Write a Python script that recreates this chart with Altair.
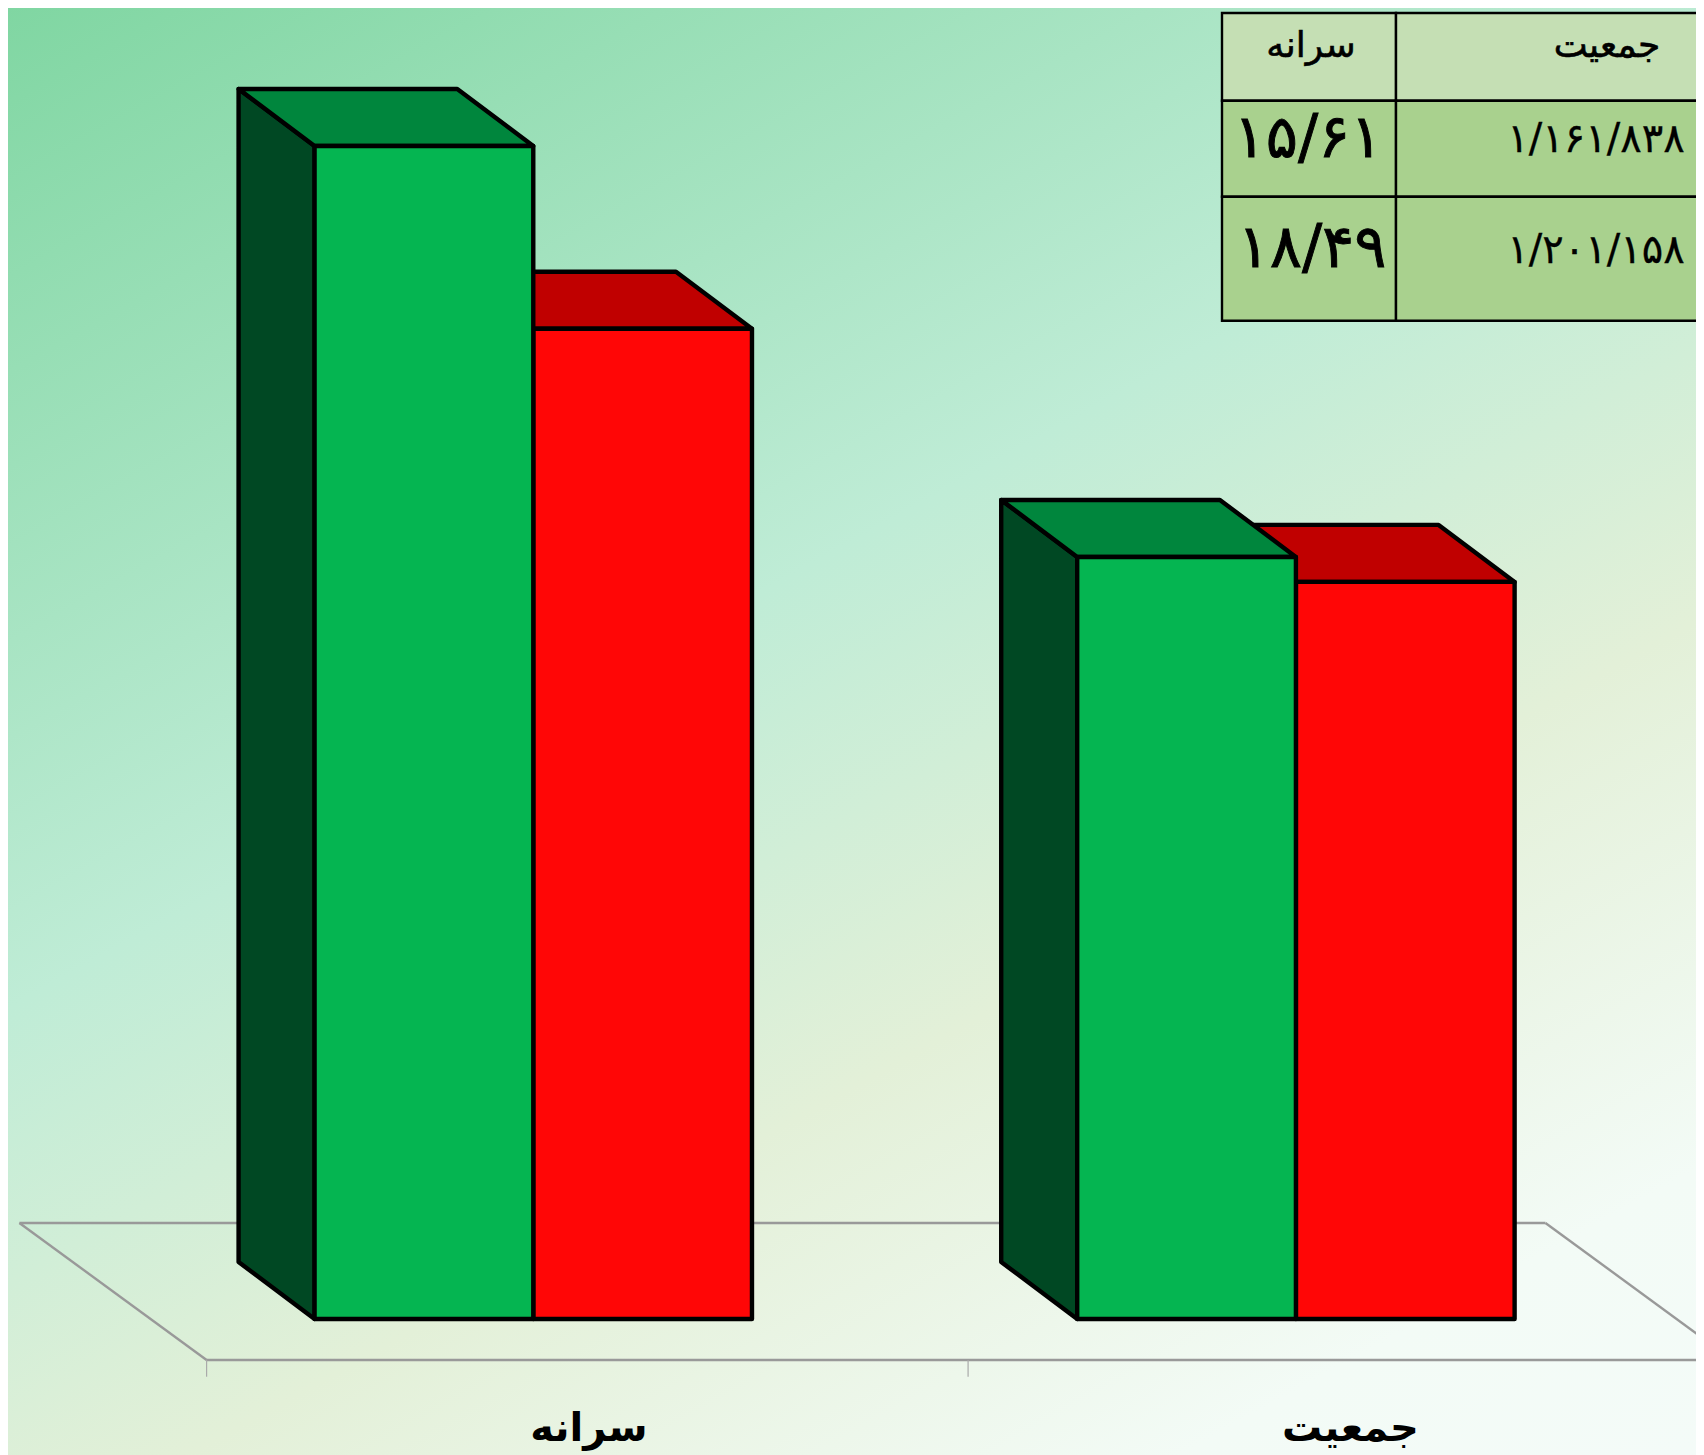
import altair as alt
import pandas as pd

# --- chart values -----------------------------------------------------
categories = ["سرانه", "جمعیت"]
green_values = [18.49, 12.01158]
red_values = [15.61, 11.61838]
table_header = ["سرانه", "جمعیت"]
table_row1 = ["۱۵/۶۱", "۱/۱۶۱/۸۳۸"]
table_row2 = ["۱۸/۴۹", "۱/۲۰۱/۱۵۸"]

# --- layout of the fake-3D chart, in axis units -----------------------
W, H = 1688, 1447
X_DOMAIN = [-0.2608, 1.9559]
Y_DOMAIN = [-2.144, 20.665]
PX_X = W / (X_DOMAIN[1] - X_DOMAIN[0])
PX_Y = H / (Y_DOMAIN[1] - Y_DOMAIN[0])

BAR_W = 0.2872
BAR_START = 0.1418
GROUP_STEP = 1.0015
DEPTH_X = 0.0998
DEPTH_Y = 0.8985
FLOOR_FRONT = -0.646
FLOOR_BACK = 1.513
FLOOR_DEPTH_X = 0.2458
FLOOR_BACK_END = 1.7582
TICK = -0.91
LABEL_Y = -1.73


def ux(px):
    return (px - 8) / PX_X + X_DOMAIN[0]


def vy(px):
    return Y_DOMAIN[1] - (px - 8) / PX_Y


xs = alt.Scale(domain=X_DOMAIN, nice=False, zero=False)
ys = alt.Scale(domain=Y_DOMAIN, nice=False, zero=False)


def X(f="x"):
    return alt.X(f"{f}:Q", scale=xs, axis=None)


def Y(f="y"):
    return alt.Y(f"{f}:Q", scale=ys, axis=None)


def X2(f="x2"):
    return alt.X2(f"{f}:Q")


def Y2(f="y2"):
    return alt.Y2(f"{f}:Q")


bars = []
for i, (g, r) in enumerate(zip(green_values, red_values)):
    left = i * GROUP_STEP + BAR_START
    bars.append(dict(id=f"g{i}", series="g", left=left, v=g))
    bars.append(dict(id=f"r{i}", series="r", left=left + BAR_W, v=r))


def side_rows(series):
    rows = []
    for b in bars:
        if b["series"] != series:
            continue
        rows.append(dict(id=b["id"], x=b["left"] - DEPTH_X, y=b["v"] + DEPTH_Y, y2=DEPTH_Y))
        rows.append(dict(id=b["id"], x=b["left"], y=b["v"], y2=0))
    return pd.DataFrame(rows)


def top_rows(series):
    rows = []
    for b in bars:
        if b["series"] != series:
            continue
        rows.append(dict(id=b["id"], y=b["v"], x=b["left"], x2=b["left"] + BAR_W))
        rows.append(dict(id=b["id"], y=b["v"] + DEPTH_Y, x=b["left"] - DEPTH_X,
                         x2=b["left"] + BAR_W - DEPTH_X))
    return pd.DataFrame(rows)


def front_rows(series):
    return pd.DataFrame([
        dict(x=b["left"], x2=b["left"] + BAR_W, y=b["v"], y2=0)
        for b in bars if b["series"] == series
    ])


STROKE = dict(stroke="#000000", strokeWidth=4.4, strokeJoin="round")


def side(series, color):
    return alt.Chart(side_rows(series)).mark_area(color=color, **STROKE).encode(
        x=X(), y=Y(), y2=Y2(), detail="id:N")


def top(series, color):
    return alt.Chart(top_rows(series)).mark_area(color=color, orient="horizontal", **STROKE).encode(
        y=Y(), x=X(), x2=X2(), detail="id:N")


def front(series, color):
    return alt.Chart(front_rows(series)).mark_rect(color=color, **STROKE).encode(
        x=X(), x2=X2(), y=Y(), y2=Y2())


# --- background -------------------------------------------------------
bg = alt.Chart(pd.DataFrame([dict(x=X_DOMAIN[0], x2=X_DOMAIN[1], y=Y_DOMAIN[0], y2=Y_DOMAIN[1])])).mark_rect(
    color=alt.Gradient(
        gradient="linear", x1=0, y1=0, x2=0.749, y2=1.162,
        stops=[
            alt.GradientStop(offset=0, color="#80D6A2"),
            alt.GradientStop(offset=0.42, color="#BFECD6"),
            alt.GradientStop(offset=0.65, color="#E3F0D8"),
            alt.GradientStop(offset=0.88, color="#F3FBF6"),
            alt.GradientStop(offset=1, color="#F4FBF8"),
        ],
    )
).encode(x=X(), x2=X2(), y=Y(), y2=Y2())

# --- floor and ticks --------------------------------------------------
floor_df = pd.DataFrame([
    dict(x=-FLOOR_DEPTH_X, x2=FLOOR_BACK_END, y=FLOOR_BACK, y2=FLOOR_BACK),
    dict(x=-FLOOR_DEPTH_X, x2=0, y=FLOOR_BACK, y2=FLOOR_FRONT),
    dict(x=FLOOR_BACK_END, x2=2.004, y=FLOOR_BACK, y2=FLOOR_FRONT),
    dict(x=0, x2=2.004, y=FLOOR_FRONT, y2=FLOOR_FRONT),
])
floor = alt.Chart(floor_df).mark_rule(color="#999999", strokeWidth=2.4, clip=True).encode(
    x=X(), x2=X2(), y=Y(), y2=Y2())
ticks = alt.Chart(pd.DataFrame([dict(x=k, y=FLOOR_FRONT, y2=TICK) for k in range(2)])).mark_rule(
    color="#AAAAAA", strokeWidth=1.2).encode(x=X(), y=Y(), y2=Y2())

labels = alt.Chart(pd.DataFrame([dict(x=i + 0.5021, y=LABEL_Y, t=c) for i, c in enumerate(categories)])).mark_text(
    font="DejaVu Sans", fontWeight="bold", fontSize=40, color="#000000", baseline="middle", align="center"
).encode(x=X(), y=Y(), text="t:N")

# --- data table -------------------------------------------------------
COL_X = [ux(1222), ux(1396), ux(1720)]
ROW_Y = [vy(13), vy(100.7), vy(196.7), vy(320.7)]
cells = pd.DataFrame([
    dict(x=COL_X[c], x2=COL_X[c + 1], y=ROW_Y[r + 1], y2=ROW_Y[r], head=r == 0)
    for r in range(3) for c in range(2)
])
table_cells = alt.Chart(cells).mark_rect(stroke="#000000", strokeWidth=2.4, clip=True).encode(
    x=X(), x2=X2(), y=Y(), y2=Y2(),
    color=alt.Color("head:N", legend=None,
                    scale=alt.Scale(domain=[True, False], range=["#C5DFB4", "#A9D18E"])),
)


def table_text(items, size, weight):
    return alt.Chart(pd.DataFrame(items)).mark_text(
        font="DejaVu Sans", fontSize=size, color="#000000", baseline="middle", align="center",
        stroke="#000000", strokeWidth=weight,
    ).encode(x=X(), y=Y(), text="t:N")


head_text = table_text([
    dict(x=ux(1311), y=vy(46), t=table_header[0]),
    dict(x=ux(1607), y=vy(46), t=table_header[1]),
], 36, 0.6)
big_text = table_text([
    dict(x=ux(1308), y=vy(139), t=table_row1[0]),
    dict(x=ux(1312), y=vy(249), t=table_row2[0]),
], 60, 0.9)
small_text = table_text([
    dict(x=ux(1596), y=vy(140), t=table_row1[1]),
    dict(x=ux(1596), y=vy(251), t=table_row2[1]),
], 40, 0.3)

chart = alt.layer(
    bg, floor, ticks,
    top("r", "#C00000"), front("r", "#FF0606"),
    side("g", "#004823"), top("g", "#00863D"), front("g", "#05B551"),
    labels,
    table_cells, head_text, big_text, small_text,
).properties(
    width=W, height=H, padding=0, autosize=alt.AutoSizeParams(type="none"),
).configure_view(stroke=None, strokeWidth=0)

chart.save("out.html", embed_options={"renderer": "svg", "actions": False})
